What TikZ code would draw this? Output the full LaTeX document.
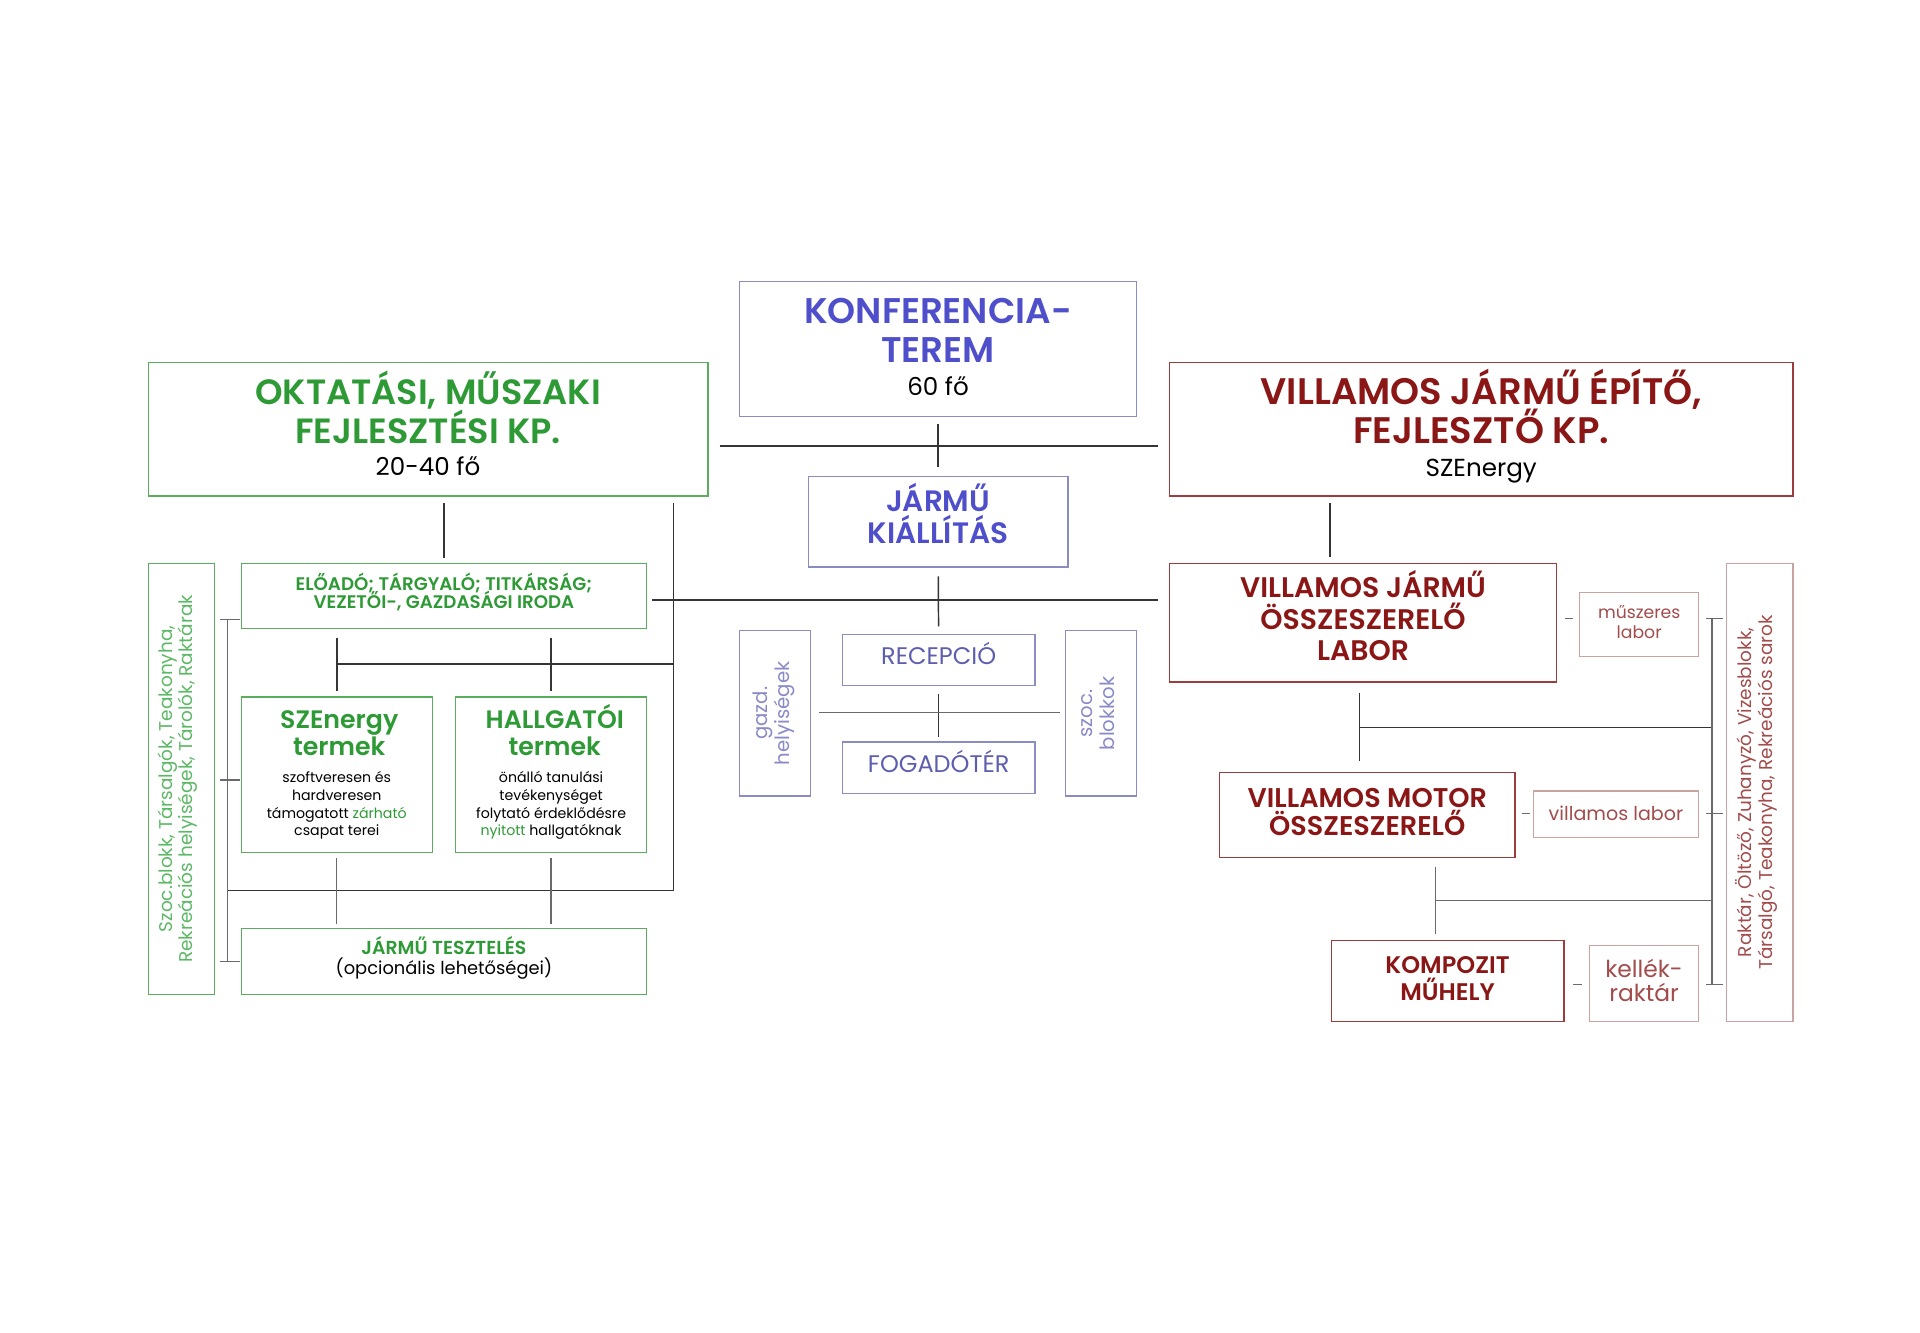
\documentclass[tikz,border=0pt]{standalone}
\usepackage{fontspec}
\setmainfont{Poppins}[BoldFont={Poppins SemiBold}]
\usetikzlibrary{fit}
\definecolor{gtext}{HTML}{2E9A36}
\definecolor{gline}{HTML}{5AAE5E}
\definecolor{lgtext}{HTML}{5DB866}
\definecolor{btext}{HTML}{4F4FCC}
\definecolor{bline}{HTML}{8C8CC4}
\definecolor{bsoft}{HTML}{5E5EB0}
\definecolor{blight}{HTML}{8A8AC8}
\definecolor{rtext}{HTML}{8A1616}
\definecolor{rline}{HTML}{9C3C3C}
\definecolor{rsoft}{HTML}{A24C4C}
\definecolor{rlight}{HTML}{C9A2A2}
\definecolor{conncol}{HTML}{353535}
\definecolor{softconn}{HTML}{6A6A6A}
\newcommand\fsz[2]{\fontsize{#1}{#2}\selectfont}
% one line of text, placed by its baseline
\newcommand\tline[5]{\node[anchor=base, inner sep=0pt, #4] (#1) at (#2,#3) {#5};}
\tikzset{
  bx/.style={draw, rectangle, inner sep=0pt, line width=1.1pt},
  gbox/.style={bx, draw=gline},
  bbox/.style={bx, draw=bline},
  rbox/.style={bx, draw=rline},
  rsmall/.style={bx, draw=rlight},
  gT/.style={text=gtext, font={\fsz{#1}{#1}\bfseries}},
  bT/.style={text=btext, font={\fsz{#1}{#1}\bfseries}},
  rT/.style={text=rtext, font={\fsz{#1}{#1}\bfseries}},
  kT/.style={text=black, font={\fsz{#1}{#1}}},
  sT/.style={font={\fsz{#1}{#1}}},
  conn/.style={draw=conncol, line width=1.2pt},
  sconn/.style={draw=softconn, line width=1pt},
}
\begin{document}
\begin{tikzpicture}[x=0.995pt,y=-0.995pt]
\useasboundingbox[fill=white] (0,0) rectangle (1567.8,1088.4);

% ---------- centre (blue) ----------
\node[bbox, fit={(604,230)(928,340)}] (konf) {};
\tline{konf1}{766}{264}{bT=29}{KONFERENCIA-}
\tline{konf2}{766}{296}{bT=29}{TEREM}
\tline{konf3}{766}{323}{kT=20}{60 fő}
\node[bbox, fit={(660,389)(872,463)}] (kiall) {};
\tline{kiall1}{766}{418}{bT=24}{JÁRMŰ}
\tline{kiall2}{766}{444}{bT=24}{KIÁLLÍTÁS}
\node[bbox, fit={(688,518)(845,560)}] (recep) {};
\tline{recept}{766.5}{543}{sT=19.5, text=bsoft}{RECEPCIÓ}
\node[bbox, fit={(688,606)(845,648)}] (fogad) {};
\tline{fogadt}{766.5}{631}{sT=19.5, text=bsoft}{FOGADÓTÉR}
\node[bbox, fit={(604,515)(662,650)}] (gazd) {};
\node[rotate=90, align=center, text=blight, font={\fsz{16}{18}}] (gazdt) at (632,582.5) {gazd.\\helyiségek};
\node[bbox, fit={(870,515)(928,650)}] (szoc) {};
\node[rotate=90, align=center, text=blight, font={\fsz{16}{18}}] (szoct) at (897,582.5) {szoc.\\blokkok};

% ---------- left (green) ----------
\node[gbox, fit={(121,296)(578,405)}] (okt) {};
\tline{okt1}{349.5}{330}{gT=28.5}{OKTATÁSI, MŰSZAKI}
\tline{okt2}{349.5}{362}{gT=28.5}{FEJLESZTÉSI KP.}
\tline{okt3}{349.5}{388}{kT=20}{20-40 fő}
\node[gbox, fit={(197,460)(528,513)}] (eload) {};
\tline{eload1}{362.5}{482}{gT=14.8}{ELŐADÓ; TÁRGYALÓ; TITKÁRSÁG;}
\tline{eload2}{362.5}{497}{gT=14.8}{VEZETŐI-, GAZDASÁGI IRODA}
\node[gbox, fit={(197,569)(353,696)}] (szet) {};
\tline{szet1}{277}{595}{gT=20.5}{SZEnergy}
\tline{szet2}{277}{617}{gT=20.5}{termek}
\tline{szet3}{275}{639}{kT=11.5}{szoftveresen és}
\tline{szet4}{275}{654}{kT=11.5}{hardveresen}
\tline{szet5}{275}{668}{kT=11.5}{támogatott {\color{gtext}zárható}}
\tline{szet6}{275}{682}{kT=11.5}{csapat terei}
\node[gbox, fit={(372,569)(528,696)}] (hallg) {};
\tline{hallg1}{453}{595}{gT=20.5}{HALLGATÓI}
\tline{hallg2}{453}{617}{gT=20.5}{termek}
\tline{hallg3}{450}{639}{kT=11.5}{önálló tanulási}
\tline{hallg4}{450}{654}{kT=11.5}{tevékenységet}
\tline{hallg5}{450}{668}{kT=11.5}{folytató érdeklődésre}
\tline{hallg6}{450}{682}{kT=11.5}{{\color{gtext}nyitott} hallgatóknak}
\node[gbox, fit={(197,758)(528,812)}] (teszt) {};
\tline{teszt1}{362.5}{779.5}{gT=15.3}{JÁRMŰ TESZTELÉS}
\tline{teszt2}{362.5}{796}{kT=14.5}{(opcionális lehetőségei)}
\node[gbox, fit={(121,460)(175,812)}] (lszoc) {};
\node[rotate=90, align=center, text=lgtext, font={\fsz{15}{16.5}}] (lszoct) at (145,636)
  {Szoc.blokk, Társalgók, Teakonyha,\\Rekreációs helyiségek, Tárolók, Raktárak};

% ---------- right (red) ----------
\node[rbox, fit={(955,296)(1464,405)}] (vill) {};
\tline{vill1}{1209.5}{330}{rT=30}{VILLAMOS JÁRMŰ ÉPÍTŐ,}
\tline{vill2}{1209.5}{362}{rT=30}{FEJLESZTŐ KP.}
\tline{vill3}{1209.5}{389}{kT=20}{SZEnergy}
\node[rbox, fit={(955,460)(1271,557)}] (labor) {};
\tline{labor1}{1113}{488}{rT=23}{VILLAMOS JÁRMŰ}
\tline{labor2}{1113}{514}{rT=23}{ÖSSZESZERELŐ}
\tline{labor3}{1113}{539}{rT=23}{LABOR}
\node[rsmall, fit={(1290,484)(1387,536)}] (muszer) {};
\tline{muszer1}{1338.5}{505}{sT=14, text=rsoft}{műszeres}
\tline{muszer2}{1338.5}{521}{sT=14, text=rsoft}{labor}
\node[rbox, fit={(996,631)(1237,700)}] (motor) {};
\tline{motor1}{1116.5}{659}{rT=22}{VILLAMOS MOTOR}
\tline{motor2}{1116.5}{682}{rT=22}{ÖSSZESZERELŐ}
\node[rsmall, fit={(1252,646)(1387,684)}] (villab) {};
\tline{villabt}{1319.5}{670}{sT=15.5, text=rsoft}{villamos labor}
\node[rbox, fit={(1087,768)(1277,834)}] (kompoz) {};
\tline{kompoz1}{1182}{795}{rT=19.5}{KOMPOZIT}
\tline{kompoz2}{1182}{817}{rT=19.5}{MŰHELY}
\node[rsmall, fit={(1298,772)(1387,834)}] (kellek) {};
\tline{kellek1}{1342.5}{798}{sT=19, text=rsoft}{kellék-}
\tline{kellek2}{1342.5}{818}{sT=19, text=rsoft}{raktár}
\node[rsmall, fit={(1410,460)(1464,834)}] (rszoc) {};
\node[rotate=90, align=center, text=rsoft, font={\fsz{15}{17}}] (rszoct) at (1434,647)
  {Raktár, Öltöző, Zuhanyzó, Vizesblokk,\\Társalgó, Teakonyha, Rekreációs sarok};

% ---------- junction coordinates ----------
\coordinate (ja) at (766,364);
\coordinate (jb) at (766,490);
\coordinate (jc) at (766,582);
\coordinate (c1) at (550,542);
\coordinate (c2) at (550,727);
\coordinate (c3) at (186,727);
\coordinate (b1) at (186,506);
\coordinate (b2) at (186,637);
\coordinate (b3) at (186,785);
\coordinate (rx) at (1086,0);
\coordinate (d1) at (1110,594);
\coordinate (d2) at (1398,594);
\coordinate (e1) at (1172,735);
\coordinate (e2) at (1398,735);
\coordinate (r1) at (1398,505);
\coordinate (r2) at (1398,664);
\coordinate (r3) at (1398,804);

% ---------- centre connectors ----------
\draw[conn, shorten <=9pt, shorten >=9pt] (okt.east |- ja) -- (vill.west |- ja);
\draw[conn, shorten <=6pt, shorten >=7pt] (konf) -- (kiall);
\draw[conn, shorten <=7pt, shorten >=6pt] (kiall) -- (recep);
\draw[conn, shorten <=4pt, shorten >=9pt] (eload.east |- jb) -- (labor.west |- jb);
\draw[conn, shorten <=6pt, shorten >=4pt] (recep) -- (fogad);
\draw[sconn, shorten <=6pt, shorten >=4pt] (gazd.east |- jc) -- (szoc.west |- jc);

% ---------- left connectors ----------
\draw[conn, shorten <=5pt, shorten >=4pt] (okt.south -| eload.north) -- (eload.north);
\draw[conn, shorten <=5pt] (okt.south -| c1) -- (c2) -- (c3);
\draw[conn] (szet.north |- c1) -- (c1);
\draw[conn, shorten <=7pt, shorten >=4pt] (eload.south -| szet.north) -- (szet.north);
\draw[conn, shorten <=7pt, shorten >=4pt] (eload.south -| hallg.north) -- (hallg.north);
\draw[sconn, shorten <=4pt, shorten >=3pt] (szet.south) -- (teszt.north -| szet.south);
\draw[sconn, shorten <=4pt, shorten >=3pt] (hallg.south) -- (teszt.north -| hallg.south);
\draw[sconn] (b1) -- (b3);
\draw[sconn] ([xshift=-6pt]b1) -- ([xshift=10pt]b1);
\draw[sconn] ([xshift=-6pt]b2) -- ([xshift=10pt]b2);
\draw[sconn] ([xshift=-6pt]b3) -- ([xshift=10pt]b3);

% ---------- right connectors ----------
\draw[conn, shorten <=5pt, shorten >=5pt] (vill.south -| rx) -- (labor.north -| rx);
\draw[conn, shorten <=8pt, shorten >=9pt] (labor.south -| d1) -- (motor.north -| d1);
\draw[conn] (d1) -- (d2);
\draw[sconn, shorten <=7pt, shorten >=5pt] (motor.south -| e1) -- (kompoz.north -| e1);
\draw[sconn] (e1) -- (e2);
\draw[sconn, shorten <=6pt, shorten >=5pt] (labor.east |- r1) -- (muszer.west |- r1);
\draw[sconn, shorten <=5pt, shorten >=2pt] (motor.east |- r2) -- (villab.west |- r2);
\draw[sconn, shorten <=7pt, shorten >=6pt] (kompoz.east |- r3) -- (kellek.west |- r3);
\draw[sconn] (r1) -- (r3);
\draw[sconn] ([xshift=-5pt]r1) -- ([xshift=9pt]r1);
\draw[sconn] ([xshift=-5pt]r2) -- ([xshift=9pt]r2);
\draw[sconn] ([xshift=-5pt]r3) -- ([xshift=9pt]r3);
\end{tikzpicture}
\end{document}
